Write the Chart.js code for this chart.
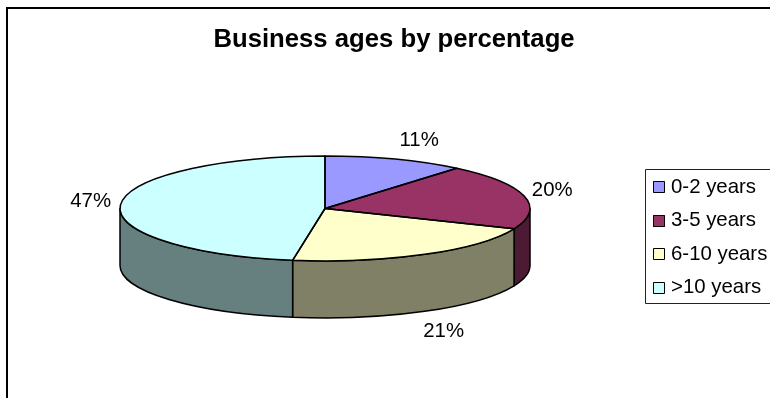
<!DOCTYPE html>
<html>
<head>
<meta charset="utf-8">
<title>Business ages by percentage</title>
<style>
  body { margin: 0; background: #fff; }
  canvas { display: block; }
</style>
<script src="https://cdn.jsdelivr.net/npm/chart.js@4"></script>
</head>
<body>
<canvas id="agesChart" width="770" height="398"></canvas>
<script>
var categories = ['0-2 years', '3-5 years', '6-10 years', '>10 years'];
var shares = [11, 20, 21, 47];

var sliceColors = ['#9999ff', '#993366', '#ffffcc', '#ccffff'];
var wallColors = ['#4d4d80', '#4d1a33', '#808066', '#668080'];

var FONT = '"Liberation Sans", Arial, sans-serif';
var TILT = 0.256;   // squash of the pie's top face
var DEPTH = 57;     // height of the side wall

// label offset from the rim of each slice
var labelNudge = [[24, -19], [28, -6], [19, 20], [-30, -3]];

function tracePie3dWall(ctx, el, from, to) {
    var ry = el.outerRadius * TILT;
    ctx.beginPath();
    ctx.ellipse(el.x, el.y, el.outerRadius, ry, 0, from, to);
    ctx.ellipse(el.x, el.y + DEPTH, el.outerRadius, ry, 0, to, from, true);
    ctx.closePath();
}

var pie3d = {
    id: 'pie3d',

    // the title is centred over the plot and legend together
    afterLayout: function (chart) {
        chart.titleBlock.left = 18;
        chart.titleBlock.right = 770;
    },

    beforeDatasetsDraw: function (chart) {
        var ctx = chart.ctx;
        var arcs = chart.getDatasetMeta(0).data;

        // frame, only the top and left sides are on the canvas
        ctx.save();
        ctx.strokeStyle = '#000';
        ctx.lineWidth = 2;
        ctx.beginPath();
        ctx.moveTo(7, 398);
        ctx.lineTo(7, 8);
        ctx.lineTo(770, 8);
        ctx.stroke();

        // side walls, front half of the pie only
        ctx.lineWidth = 1.5;
        ctx.lineJoin = 'round';
        arcs.forEach(function (el, i) {
            var from = Math.max(el.startAngle, 0);
            var to = Math.min(el.endAngle, Math.PI);
            if (to <= from) return;
            tracePie3dWall(ctx, el, from, to);
            ctx.fillStyle = wallColors[i];
            ctx.fill();
            ctx.stroke();
        });
        ctx.restore();

        // squash the arcs the library draws next
        var first = arcs[0];
        ctx.save();
        ctx.translate(first.x, first.y);
        ctx.scale(1, TILT);
        ctx.translate(-first.x, -first.y);
    },

    afterDatasetsDraw: function (chart) {
        var ctx = chart.ctx;
        var arcs = chart.getDatasetMeta(0).data;
        ctx.restore();

        ctx.save();
        ctx.strokeStyle = '#000';
        ctx.lineWidth = 1.5;
        ctx.lineJoin = 'round';
        arcs.forEach(function (el) {
            ctx.beginPath();
            ctx.moveTo(el.x, el.y);
            ctx.ellipse(el.x, el.y, el.outerRadius, el.outerRadius * TILT, 0, el.startAngle, el.endAngle);
            ctx.closePath();
            ctx.stroke();
        });

        // percentage labels
        ctx.fillStyle = '#000';
        ctx.font = '20.4px ' + FONT;
        ctx.textAlign = 'center';
        ctx.textBaseline = 'middle';
        arcs.forEach(function (el, i) {
            var mid = (el.startAngle + el.endAngle) / 2;
            var px = el.x + el.outerRadius * Math.cos(mid);
            var py = el.y + el.outerRadius * TILT * Math.sin(mid);
            if (Math.sin(mid) > 0.5) py += DEPTH;
            ctx.fillText(shares[i] + '%', px + labelNudge[i][0], py + labelNudge[i][1]);
        });

        // legend box runs off the right edge of the canvas
        ctx.strokeStyle = '#222';
        ctx.lineWidth = 1;
        ctx.strokeRect(645.5, 169.5, 140, 134);
        ctx.textAlign = 'left';
        categories.forEach(function (name, i) {
            var y = 187 + i * 33.6;
            ctx.fillStyle = sliceColors[i];
            ctx.fillRect(653, Math.round(y) - 6, 12, 12);
            ctx.strokeStyle = '#000';
            ctx.strokeRect(653.5, Math.round(y) - 5.5, 11, 11);
            ctx.fillStyle = '#000';
            ctx.fillText(name, 671, y);
        });
        ctx.restore();
    }
};

var agesChart = new Chart(document.getElementById('agesChart'), {
    type: 'pie',
    data: {
        labels: categories,
        datasets: [{
            data: shares,
            backgroundColor: sliceColors,
            borderWidth: 0,
            radius: 205,
            clip: false
        }]
    },
    options: {
        responsive: false,
        animation: false,
        events: [],
        layout: { padding: { left: 0, right: 120, top: 0, bottom: 41 } },
        plugins: {
            legend: { display: false },
            tooltip: { enabled: false },
            title: {
                display: true,
                text: 'Business ages by percentage',
                color: '#000',
                font: { family: FONT, size: 25.7, weight: 'bold', lineHeight: 1.167 },
                padding: { top: 25, bottom: 5 }
            }
        }
    },
    plugins: [pie3d]
});
</script>
</body>
</html>
